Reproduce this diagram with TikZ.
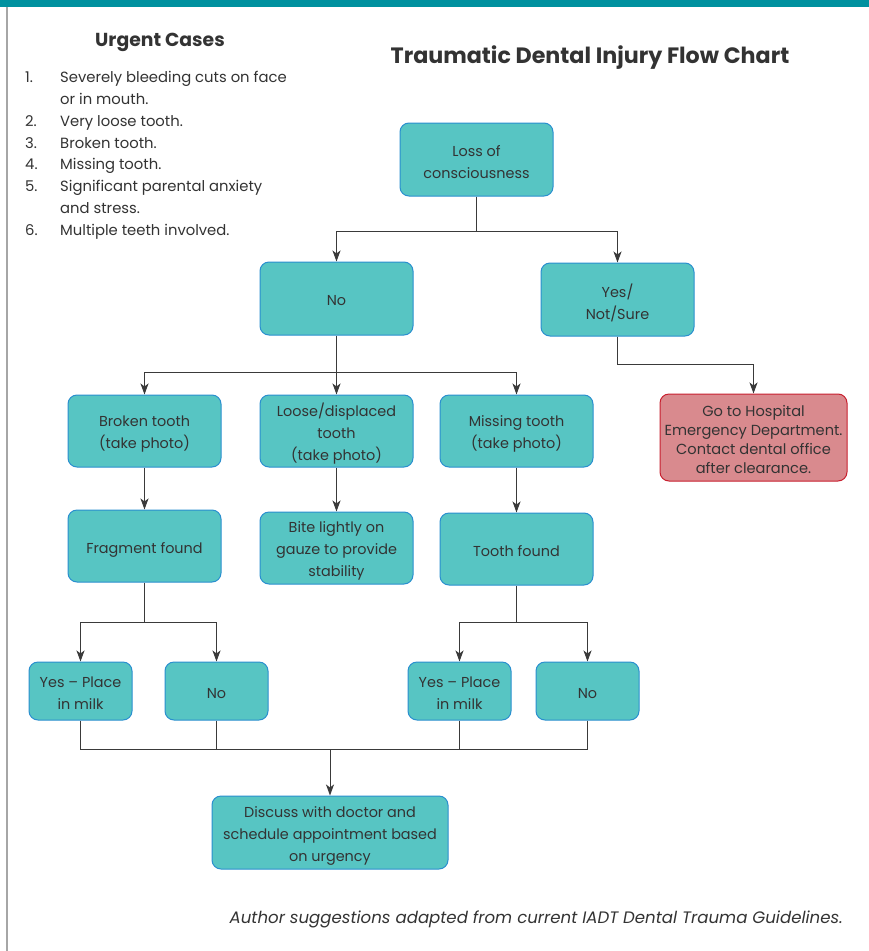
\documentclass[tikz,border=0pt]{standalone}
\usepackage{fontspec}
\setmainfont{Poppins}
\usetikzlibrary{arrows.meta}
\definecolor{bar}{HTML}{00919F}
\definecolor{boxfill}{HTML}{57C5C3}
\definecolor{boxline}{HTML}{2A8FCF}
\definecolor{redfill}{HTML}{D98A8E}
\definecolor{redline}{HTML}{C8202F}
\definecolor{txt}{HTML}{333333}
\definecolor{conn}{HTML}{3A3A3A}
\begin{document}
\begin{tikzpicture}[x=1pt,y=-1pt,
  box/.style={draw=boxline, fill=boxfill, rounded corners=9pt, line width=1pt, inner sep=0pt},
  redbox/.style={box, draw=redline, fill=redfill},
  tx/.style={align=center, text=txt, inner sep=0pt, font=\fontsize{14.4}{22}\selectfont},
  tx1/.style={tx, text height=11pt, text depth=0pt, yshift=-1.5pt},
  txr/.style={tx, font=\fontsize{14.6}{19}\selectfont},
  conn/.style={draw=conn, line width=1pt},
  arr/.style={conn, -{Stealth[length=11pt,width=8pt,inset=3pt]}},
  listtxt/.style={anchor=base west, inner sep=0pt, text=txt, font=\fontsize{14.8}{16}\selectfont}
]
\useasboundingbox (0,0) rectangle (869,951);
\fill[white] (0,0) rectangle (869,951);
\fill[bar] (0,0) rectangle (869,7);
\draw[gray!70, line width=1.8pt] (7,7) -- (7,951);

% headings
\node[text=txt, font=\bfseries\fontsize{18.8}{22}\selectfont] (urg) at (160,42) {Urgent Cases};
\node[text=txt, font=\bfseries\fontsize{22.2}{26}\selectfont] (title) at (590,58) {Traumatic Dental Injury Flow Chart};

% list
\foreach \n/\y in {1./82, 2./126, 3./148, 4./169, 5./191, 6./235}{
  \node[listtxt] at (25,\y) {\n};
}
\node[listtxt] (l1) at (60,82) {Severely bleeding cuts on face};
\node[listtxt] (l1b) at (60,104) {or in mouth.};
\node[listtxt] (l2) at (60,126) {Very loose tooth.};
\node[listtxt] (l3) at (60,148) {Broken tooth.};
\node[listtxt] (l4) at (60,169) {Missing tooth.};
\node[listtxt] (l5) at (60,191) {Significant parental anxiety};
\node[listtxt] (l5b) at (60,213) {and stress.};
\node[listtxt] (l6) at (60,235) {Multiple teeth involved.};

% boxes
\node[box, minimum width=153pt, minimum height=73pt] (loss) at (476.5,159.5) {};
\node[box, minimum width=153pt, minimum height=73pt] (no) at (336.5,298.5) {};
\node[box, minimum width=153pt, minimum height=73pt] (yes) at (617.5,299.5) {};
\node[redbox, minimum width=187pt, minimum height=87pt] (hosp) at (753.5,437.5) {};
\node[box, minimum width=153pt, minimum height=72pt] (broken) at (144.5,431) {};
\node[box, minimum width=153pt, minimum height=72pt] (loose) at (336.5,431) {};
\node[box, minimum width=153pt, minimum height=72pt] (missing) at (516.5,431) {};
\node[box, minimum width=153pt, minimum height=72pt] (frag) at (144.5,546) {};
\node[box, minimum width=153pt, minimum height=72pt] (bite) at (336.5,548) {};
\node[box, minimum width=153pt, minimum height=72pt] (found) at (516.5,549) {};
\node[box, minimum width=103pt, minimum height=58pt] (y1) at (80.5,691) {};
\node[box, minimum width=103pt, minimum height=58pt] (n1) at (216.5,691) {};
\node[box, minimum width=103pt, minimum height=58pt] (y2) at (459.5,691) {};
\node[box, minimum width=103pt, minimum height=58pt] (n2) at (587.5,691) {};
\node[box, minimum width=236pt, minimum height=73pt] (disc) at (330,832.5) {};

% box texts
\node[tx] (losst) at ([yshift=-3pt]loss.center) {Loss of\\consciousness};
\node[tx1] (not) at (no.center) {No};
\node[tx] (yest) at ([yshift=-3pt]yes.center) {Yes/\\Not/Sure};
\node[txr] (hospt) at ([yshift=-2pt]hosp.center) {Go to Hospital\\Emergency Department.\\Contact dental office\\after clearance.};
\node[tx] (brokent) at ([yshift=-3pt]broken.center) {Broken tooth\\(take photo)};
\node[tx] (looset) at ([yshift=-2.5pt]loose.center) {Loose/displaced\\tooth\\(take photo)};
\node[tx] (missingt) at ([yshift=-3pt]missing.center) {Missing tooth\\(take photo)};
\node[tx1] (fragt) at (frag.center) {Fragment found};
\node[tx] (bitet) at ([yshift=-3pt]bite.center) {Bite lightly on\\gauze to provide\\stability};
\node[tx1] (foundt) at (found.center) {Tooth found};
\node[tx] (y1t) at ([yshift=-2pt]y1.center) {Yes -- Place\\in milk};
\node[tx1] (n1t) at (n1.center) {No};
\node[tx] (y2t) at ([yshift=-2pt]y2.center) {Yes -- Place\\in milk};
\node[tx1] (n2t) at (n2.center) {No};
\node[tx] (disct) at ([yshift=-3pt]disc.center) {Discuss with doctor and\\schedule appointment based\\on urgency};

% footer
\node[anchor=base east, inner sep=0pt, text=txt, font=\itshape\fontsize{16.6}{18}\selectfont] (foot) at (843,923) {Author suggestions adapted from current IADT Dental Trauma Guidelines.};

% connectors
\coordinate (j1) at (476.5,231);
\draw[conn] (loss.south) -- (j1);
\draw[arr] (j1) -| (no.north);
\draw[arr] (j1) -| (yes.north);
\coordinate (j2) at (617.5,364);
\draw[arr] (yes.south) |- (j2) -| (hosp.north);
\coordinate (j3) at (336.5,372);
\draw[conn] (no.south) -- (j3);
\draw[arr] (j3) -| (broken.north);
\draw[arr] (j3) -- (loose.north);
\draw[arr] (j3) -| (missing.north);
\draw[arr] (broken) -- (frag);
\draw[arr] (loose) -- (bite);
\draw[arr] (missing) -- (found);
\coordinate (j4) at (144.5,622);
\draw[conn] (frag.south) -- (j4);
\draw[arr] (j4) -| (y1.north);
\draw[arr] (j4) -| (n1.north);
\coordinate (j5) at (516.5,622);
\draw[conn] (found.south) -- (j5);
\draw[arr] (j5) -| (y2.north);
\draw[arr] (j5) -| (n2.north);
\coordinate (j6) at (330,749);
\draw[conn] (y1.south) |- (j6);
\draw[conn] (n2.south) |- (j6);
\draw[conn] (n1.south) -- (n1.south |- j6);
\draw[conn] (y2.south) -- (y2.south |- j6);
\draw[arr] (j6) -- (disc.north);
\end{tikzpicture}
\end{document}
